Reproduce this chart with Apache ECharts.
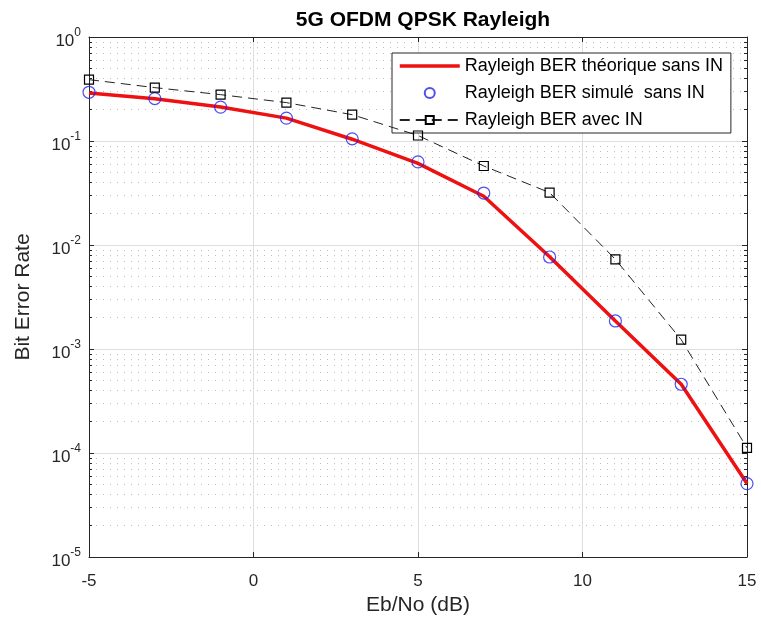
<!DOCTYPE html>
<html><head><meta charset="utf-8">
<script src="https://cdn.jsdelivr.net/npm/echarts@6/dist/echarts.min.js"></script>
<style>html,body{margin:0;padding:0;background:#fff}#c{width:761px;height:624px}</style>
</head><body><div id="c"></div><script>
const ebno = [-5, -3, -1, 1, 3, 5, 7, 9, 11, 13, 15];
const berTheo = [0.29, 0.255, 0.212, 0.166, 0.104, 0.061, 0.0294, 0.0077, 0.00186, 0.000458, 0.0000508];
const berSim = [0.294, 0.256, 0.212, 0.166, 0.105, 0.0629, 0.0316, 0.00767, 0.00186, 0.000458, 0.0000508];
const berIN = [0.389, 0.326, 0.279, 0.234, 0.179, 0.113, 0.0575, 0.0319, 0.00728, 0.00123, 0.000112];
const xTicks = [-5, 0, 5, 10, 15];
const names = ['Rayleigh BER théorique sans IN', 'Rayleigh BER simulé  sans IN', 'Rayleigh BER avec IN'];

const FONT = 'Liberation Sans, Arial, sans-serif';
const TXT = '#262626';
const CLEAR = 'rgba(0,0,0,0)';
const pair = (xs, ys) => xs.map((x, i) => [x, ys[i]]);

const chart = echarts.init(document.getElementById('c'), null, {renderer: 'canvas'});
const yLabel = {
  show: true, margin: 8,
  formatter: v => '{b|10}{s|' + Math.round(Math.log10(v)) + '}',
  rich: {
    b: {fontSize: 17, color: TXT, fontFamily: FONT, padding: [8, 0, 0, 0]},
    s: {fontSize: 12, color: TXT, fontFamily: FONT, padding: [0, 0, 8, 0]}
  }
};
chart.setOption({
  animation: false,
  backgroundColor: '#fff',
  textStyle: {fontFamily: FONT},
  title: {
    text: '5G OFDM QPSK Rayleigh', left: 418, top: 5, textAlign: 'center',
    textStyle: {fontSize: 21, fontWeight: 'bold', color: '#000', fontFamily: FONT}
  },
  grid: {left: 89, right: 14, top: 37, bottom: 67, containLabel: false},
  legend: {
    orient: 'vertical', left: 392, top: 53,
    backgroundColor: '#fff', borderColor: TXT, borderWidth: 1,
    padding: [4, 8, 4, 6], itemWidth: 60, itemHeight: 10, itemGap: 9,
    textStyle: {fontSize: 18, color: '#000', fontFamily: FONT},
    data: [
      {name: names[0], itemStyle: {opacity: 0}, lineStyle: {width: 3.5, color: '#ee1111'}},
      {name: names[1]},
      {name: names[2]}
    ]
  },
  xAxis: [{
    type: 'value', min: -5, max: 15, interval: 5,
    name: 'Eb/No (dB)', nameLocation: 'middle', nameGap: 37,
    nameTextStyle: {fontSize: 21, color: TXT, fontFamily: FONT},
    axisLine: {show: true, onZero: false, lineStyle: {color: TXT, width: 1}},
    axisTick: {show: true, inside: true, length: 5, lineStyle: {color: TXT}},
    axisLabel: {fontSize: 17, color: TXT, margin: 16, fontFamily: FONT,
      customValues: xTicks},
    splitLine: {show: true, lineStyle: {color: '#dedede', width: 1}}
  }, {
    type: 'value', min: -5, max: 15, interval: 5, position: 'top',
    axisLine: {show: true, onZero: false, lineStyle: {color: TXT, width: 1}},
    axisTick: {show: true, inside: true, length: 5, lineStyle: {color: TXT}},
    axisLabel: {show: false}, splitLine: {show: false}
  }],
  yAxis: [{
    type: 'log', logBase: 10, min: 1e-5, max: 1,
    name: 'Bit Error Rate', nameLocation: 'middle', nameGap: 55,
    nameTextStyle: {fontSize: 21, color: TXT, fontFamily: FONT},
    axisLine: {show: true, onZero: false, lineStyle: {color: TXT, width: 1}},
    axisTick: {show: true, inside: true, length: 5, lineStyle: {color: TXT}},
    minorTick: {show: true, splitNumber: 9, length: 3, lineStyle: {color: TXT}},
    axisLabel: yLabel,
    splitLine: {show: true, lineStyle: {color: '#dedede', width: 1}},
    minorSplitLine: {show: true, lineStyle: {color: '#bdbdbd', width: 1, type: [1, 6]}}
  }, {
    type: 'log', logBase: 10, min: 1e-5, max: 1, position: 'right',
    axisLine: {show: true, onZero: false, lineStyle: {color: TXT, width: 1}},
    axisTick: {show: true, inside: true, length: 5, lineStyle: {color: TXT}},
    minorTick: {show: true, splitNumber: 9, length: 3, lineStyle: {color: TXT}},
    axisLabel: {show: false}, splitLine: {show: false}
  }],
  series: [{
    name: names[0], type: 'line', data: pair(ebno, berTheo),
    symbol: 'none', z: 3,
    lineStyle: {color: '#ee1111', width: 3.5}, itemStyle: {color: '#ee1111'}
  }, {
    name: names[1], type: 'scatter', data: pair(ebno, berSim),
    symbol: 'circle', symbolSize: 12, z: 4,
    itemStyle: {color: CLEAR, borderColor: '#2222ee', borderWidth: 1.2}
  }, {
    name: names[2], type: 'line', data: pair(ebno, berIN),
    symbol: 'rect', symbolSize: 9, showSymbol: true, z: 5,
    lineStyle: {color: '#222', width: 1, type: [10, 6]},
    itemStyle: {color: CLEAR, borderColor: '#000', borderWidth: 1.2}
  }]
});
</script></body></html>
